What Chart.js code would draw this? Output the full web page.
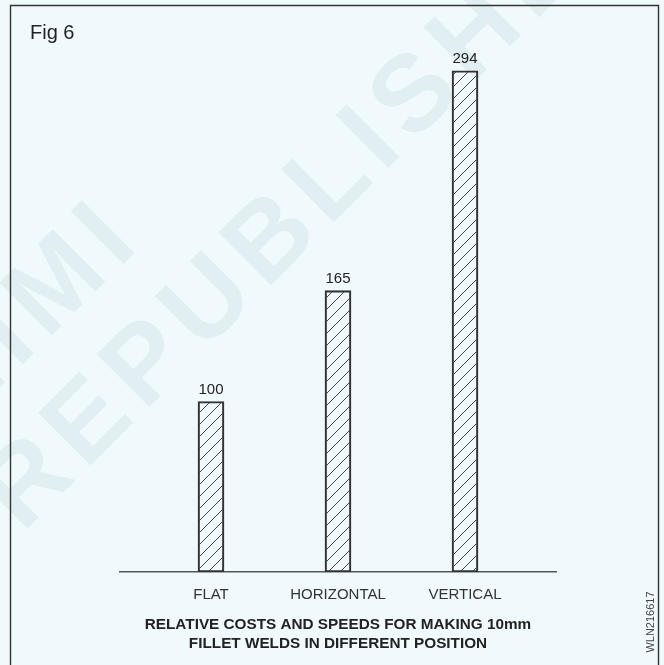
<!DOCTYPE html>
<html>
<head>
<meta charset="utf-8">
<script src="https://cdn.jsdelivr.net/npm/chart.js@4.4.0/dist/chart.umd.min.js"></script>
<style>
  html, body { margin: 0; padding: 0; background: #f0fafc; }
  canvas { display: block; }
</style>
</head>
<body>
<canvas id="weldChart" width="664" height="665"></canvas>
<script>
// relative cost of a 10mm fillet weld, flat position = 100
const positions = ['FLAT', 'HORIZONTAL', 'VERTICAL']
const relativeCost = [100, 165, 294]
const titleLines = ['RELATIVE COSTS AND SPEEDS FOR MAKING 10mm', 'FILLET WELDS IN DIFFERENT POSITION']
const figLabel = 'Fig 6'
const drawingNo = 'WLN216617'
const watermark = ['NIMI', 'REPUBLISHED']

const FONT = '"Liberation Sans", Arial, Helvetica, sans-serif'
Chart.defaults.font.family = FONT

const canvas = document.getElementById('weldChart')
const ctx = canvas.getContext('2d')

// diagonal hatching for the bars, transparent between the lines
function makeHatch() {
  const tile = document.createElement('canvas')
  tile.width = 12
  tile.height = 12
  const t = tile.getContext('2d')
  t.strokeStyle = '#444'
  t.lineWidth = 1
  t.beginPath()
  t.moveTo(-1, 13); t.lineTo(13, -1)
  t.moveTo(-7, 7); t.lineTo(7, -7)
  t.moveTo(5, 19); t.lineTo(19, 5)
  t.stroke()
  return ctx.createPattern(tile, 'repeat')
}

const paper = {
  id: 'paper',
  beforeDraw(chart) {
    const c = chart.ctx
    c.save()
    c.fillStyle = '#f0fafc'
    c.fillRect(0, 0, chart.width, chart.height)

    // faint diagonal stamp
    c.fillStyle = '#e2eff2'
    c.font = `bold 108px ${FONT}`
    c.letterSpacing = '11px'
    c.textAlign = 'center'
    c.textBaseline = 'middle'
    const spots = [[30, 315], [318, 196]]
    watermark.forEach((word, i) => {
      c.save()
      c.translate(spots[i][0], spots[i][1])
      c.rotate(-Math.PI / 4)
      c.fillText(word, 0, 0)
      c.restore()
    })
    c.letterSpacing = '0px'

    // frame
    c.strokeStyle = '#333'
    c.lineWidth = 1.4
    c.beginPath()
    c.moveTo(10.5, chart.height)
    c.lineTo(10.5, 5.5)
    c.lineTo(658.5, 5.5)
    c.lineTo(658.5, chart.height)
    c.stroke()

    c.fillStyle = '#222'
    c.font = `20px ${FONT}`
    c.textAlign = 'left'
    c.textBaseline = 'alphabetic'
    c.fillText(figLabel, 30, 39)

    c.fillStyle = '#444'
    c.font = `11px ${FONT}`
    c.translate(651, 622)
    c.rotate(-Math.PI / 2)
    c.textAlign = 'center'
    c.textBaseline = 'middle'
    c.fillText(drawingNo, 0, 0)
    c.restore()
  }
}

const valueLabels = {
  id: 'valueLabels',
  afterDatasetsDraw(chart) {
    const c = chart.ctx
    const meta = chart.getDatasetMeta(0)
    c.save()
    c.fillStyle = '#222'
    c.font = `15px ${FONT}`
    c.textAlign = 'center'
    c.textBaseline = 'alphabetic'
    meta.data.forEach((bar, i) => {
      c.fillText(String(relativeCost[i]), bar.x, bar.y - 8)
    })
    c.restore()
  }
}

new Chart(ctx, {
  type: 'bar',
  data: {
    datasets: [{
      data: relativeCost.map((v, i) => ({ x: i + 1, y: v })),
      backgroundColor: makeHatch(),
      borderColor: '#333',
      borderWidth: 1.5,
      borderSkipped: false,
      barThickness: 26
    }]
  },
  options: {
    responsive: false,
    animation: false,
    layout: { padding: { left: 120, right: 108, top: 60.5, bottom: 11.25 } },
    scales: {
      x: {
        type: 'linear',
        offset: false,
        min: 0.2835,
        max: 3.7165,
        grid: { display: false, drawTicks: false, offset: false },
        border: { color: '#555', width: 1.5 },
        afterBuildTicks: scale => { scale.ticks = positions.map((_, i) => ({ value: i + 1 })) },
        ticks: {
          padding: 14,
          color: '#333',
          font: { size: 15 },
          maxRotation: 0,
          autoSkip: false,
          callback: v => positions[v - 1]
        }
      },
      y: { display: false, min: 0, max: 300 }
    },
    plugins: {
      legend: { display: false },
      tooltip: { enabled: false },
      title: {
        display: true,
        position: 'bottom',
        text: titleLines,
        color: '#222',
        font: { size: 15.3, weight: 'bold', lineHeight: 1.25 },
        padding: { top: -2.5, bottom: 0 }
      }
    }
  },
  plugins: [paper, valueLabels]
})
</script>
</body>
</html>
